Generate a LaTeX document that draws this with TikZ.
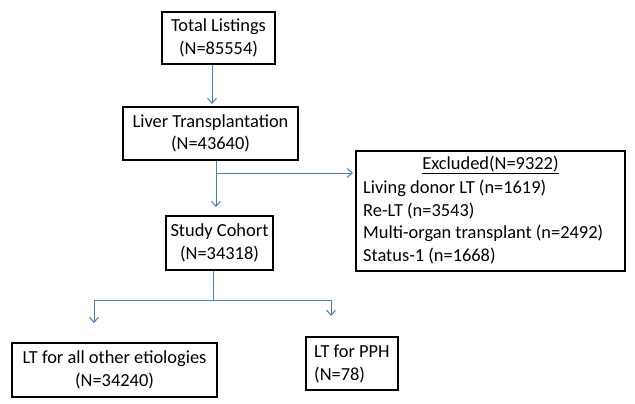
\documentclass[tikz,border=0pt]{standalone}
\usepackage{fontspec}
\setmainfont{Carlito}
\usetikzlibrary{arrows.meta}
\definecolor{connc}{HTML}{4A7EBB}
\begin{document}
\begin{tikzpicture}[x=1pt,y=-1pt,
 box/.style={draw=black, line width=1.3pt, inner sep=0pt, align=center, font=\fontsize{18.4}{22.5}\selectfont},
 txt/.style={inner sep=0pt, font=\fontsize{18.4}{22.5}\selectfont},
 conn/.style={draw=connc, line width=1pt},
 arr/.style={conn, -{Straight Barb[length=5pt,width=9pt]}}]
\useasboundingbox (0,0) rectangle (635,404);
\node[box, minimum width=113pt, minimum height=52pt] (total) at (218.5,38) {Total Listings\\(N=85554)};
\node[box, minimum width=175pt, minimum height=53pt] (liver) at (210.5,133.5) {Liver Transplantation\\(N=43640)};
\node[box, minimum width=107pt, minimum height=54pt] (study) at (219.5,243) {Study Cohort\\(N=34318)};
\node[box, minimum width=269pt, minimum height=120pt] (excl) at (490.5,211) {};
\node[txt] (exclt) at (490.5,165) {\underline{Excluded(N=9322)}};
\node[txt, anchor=west] (l1) at (363,188) {Living donor LT (n=1619)};
\node[txt, anchor=west] (l2) at (363,211) {Re-LT (n=3543)};
\node[txt, anchor=west] (l3) at (363,233) {Multi-organ transplant (n=2492)};
\node[txt, anchor=west] (l4) at (363,256) {Status-1 (n=1668)};
\node[box, minimum width=205pt, minimum height=54pt] (other) at (114.5,370) {LT for all other etiologies\\(N=34240)};
\node[box, minimum width=92pt, minimum height=53pt] (pph) at (352,363.5) {};
\node[txt, anchor=west, align=left] (ppht) at (314,364) {LT for PPH\\(N=78)};
\coordinate (t1) at (212,104);
\coordinate (s1) at (216,207);
\coordinate (b1) at (216,173);
\coordinate (e1) at (353,173);
\coordinate (j) at (213,300);
\coordinate (la) at (94,323);
\coordinate (ra) at (331,316);
\draw[arr] (total.south -| t1) -- (t1);
\draw[arr] (liver.south -| s1) -- (s1);
\draw[arr] (b1) -- (e1);
\draw[conn] (study.south -| j) -- (j);
\draw[arr] (j) -| (la);
\draw[arr] (j) -| (ra);
\end{tikzpicture}
\end{document}
